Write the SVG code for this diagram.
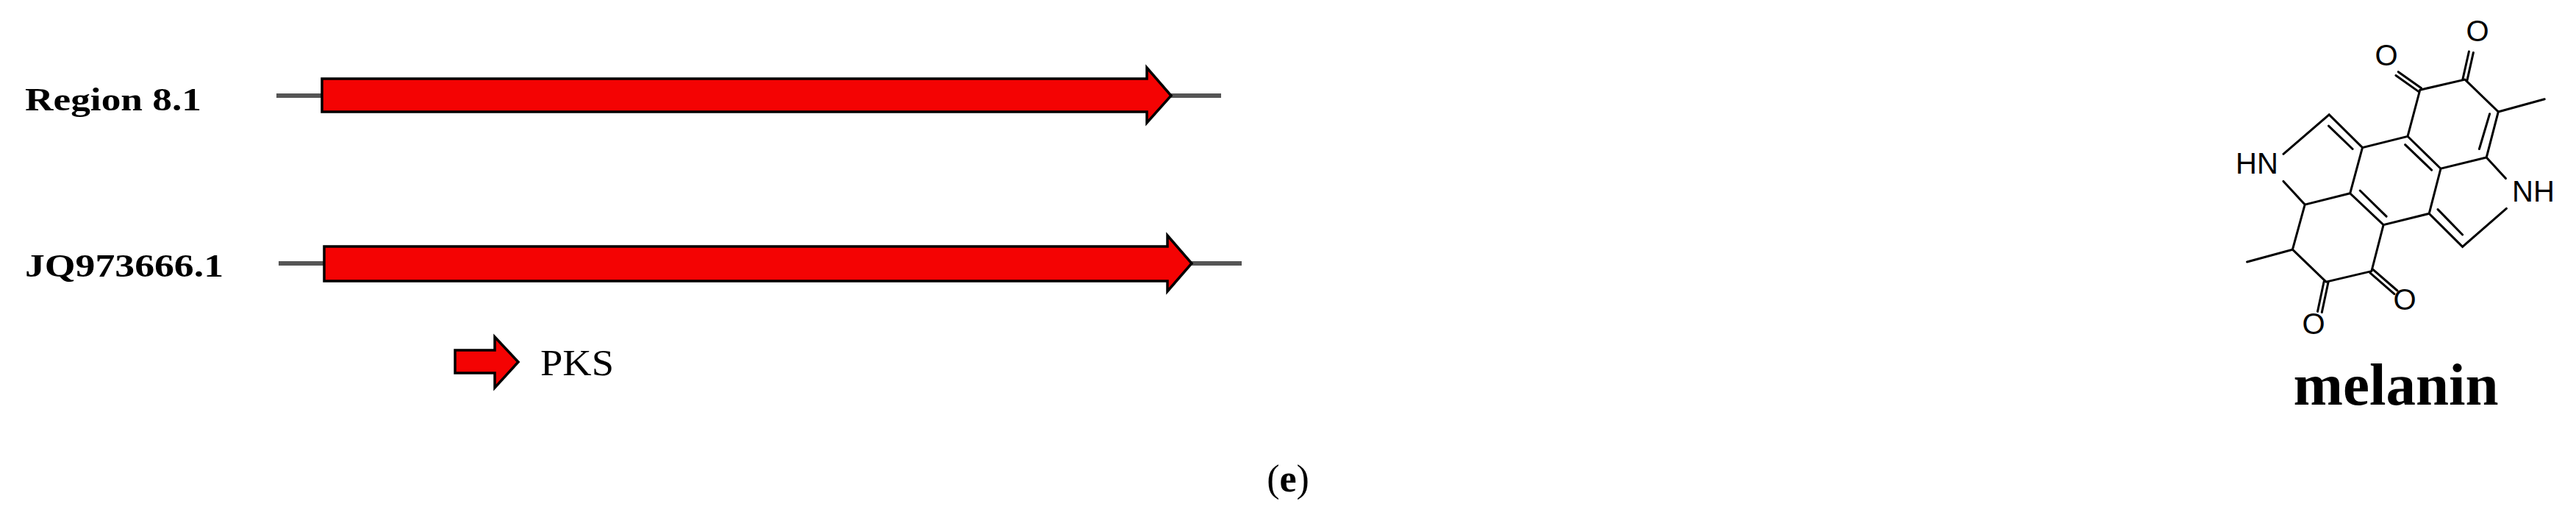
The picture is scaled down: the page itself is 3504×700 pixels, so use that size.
<svg xmlns="http://www.w3.org/2000/svg" width="3504" height="700" viewBox="0 0 3504 700">
<style>
.lbl{font-family:"Liberation Serif",serif;font-weight:bold;font-size:44px;fill:#000}
.gene{fill:#f40303;stroke:#000;stroke-width:3.5;stroke-linejoin:miter}
.bb{stroke:#555;stroke-width:6}
.bd{stroke:#000;stroke-width:3;stroke-linecap:round;fill:none}
.at{font-family:"Liberation Sans",sans-serif;font-size:40px;fill:#000;text-anchor:middle}
</style>
<rect width="3504" height="700" fill="#fff"/>
<g id="connectors"></g>
<g id="region81">
<line class="bb" x1="376" y1="130" x2="1661" y2="130"/>
<polygon class="gene" points="438,107 1560,107 1560,92 1593,130 1560,167 1560,152 438,152"/>
<text class="lbl" x="34" y="150" textLength="240" lengthAdjust="spacingAndGlyphs">Region 8.1</text>
</g>
<g id="jq973666">
<line class="bb" x1="379" y1="358" x2="1689" y2="358"/>
<polygon class="gene" points="441,335 1588,335 1588,320 1621,358 1588,396 1588,382 441,382"/>
<text class="lbl" x="34" y="376" textLength="270" lengthAdjust="spacingAndGlyphs">JQ973666.1</text>
</g>
<g id="legend">
<polygon class="gene" points="619,476 673,476 673,458 705,492 673,527 673,507 619,507"/>
<text x="735" y="510" style="font-family:'Liberation Serif',serif;font-size:50px" textLength="100" lengthAdjust="spacingAndGlyphs">PKS</text>
</g>
<g id="melanin">
<path class="bd" d="M3106,209.3 L3168.2,155.9 L3213.5,200.6 L3275,185.3 L3320,229.2 L3382.2,213.9 L3398.3,152 L3353,108.1 L3291.8,122.2 L3275,185.3 M3398.3,152 L3461.2,134.8 M3382.2,213.9 L3408.4,242.6 M3409.4,283.4 L3349.6,335.4 L3304.2,290.3 L3320,229.2 M3304.2,290.3 L3242.1,305.6 L3196.7,262.8 L3213.5,200.6 M3196.7,262.8 L3135.2,278.1 L3106,246.4 M3135.2,278.1 L3118.4,339.2 L3056.6,356 M3118.4,339.2 L3164.1,383.1 L3225.9,368.6 L3242.1,305.6"/>
<path class="bd" d="M3167.5,171.1 L3200.1,202.5 M3271.6,196.7 L3307.6,231.1 M3386.6,154.7 L3372.4,202.5 M3210.2,259 L3246.1,294.1 M3316,284.6 L3349.6,319"/>
<path class="bd" d="M3293.5,119.8 L3262.3,97.7 M3290.1,124.6 L3258.9,102.5 M3350,107.4 L3358.4,70 M3356,108.8 L3364.4,71.4 M3161.2,382.5 L3152.5,423.4 M3167,383.7 L3158.3,424.6 M3227.9,366.3 L3260.9,395 M3223.9,370.9 L3256.9,399.6"/>
<text class="at" x="3070" y="236">HN</text>
<text class="at" x="3446" y="274">NH</text>
<text class="at" x="3246" y="89">O</text>
<text class="at" x="3370" y="56">O</text>
<text class="at" x="3147" y="454">O</text>
<text class="at" x="3271" y="421">O</text>
<text x="3259" y="550" text-anchor="middle" style="font-family:'Liberation Serif',serif;font-weight:bold;font-size:80px" textLength="279" lengthAdjust="spacingAndGlyphs">melanin</text>
</g>
<text x="1752" y="668" text-anchor="middle" style="font-family:'Liberation Serif',serif;font-size:52px">(<tspan font-weight="bold">e</tspan>)</text>
</svg>
